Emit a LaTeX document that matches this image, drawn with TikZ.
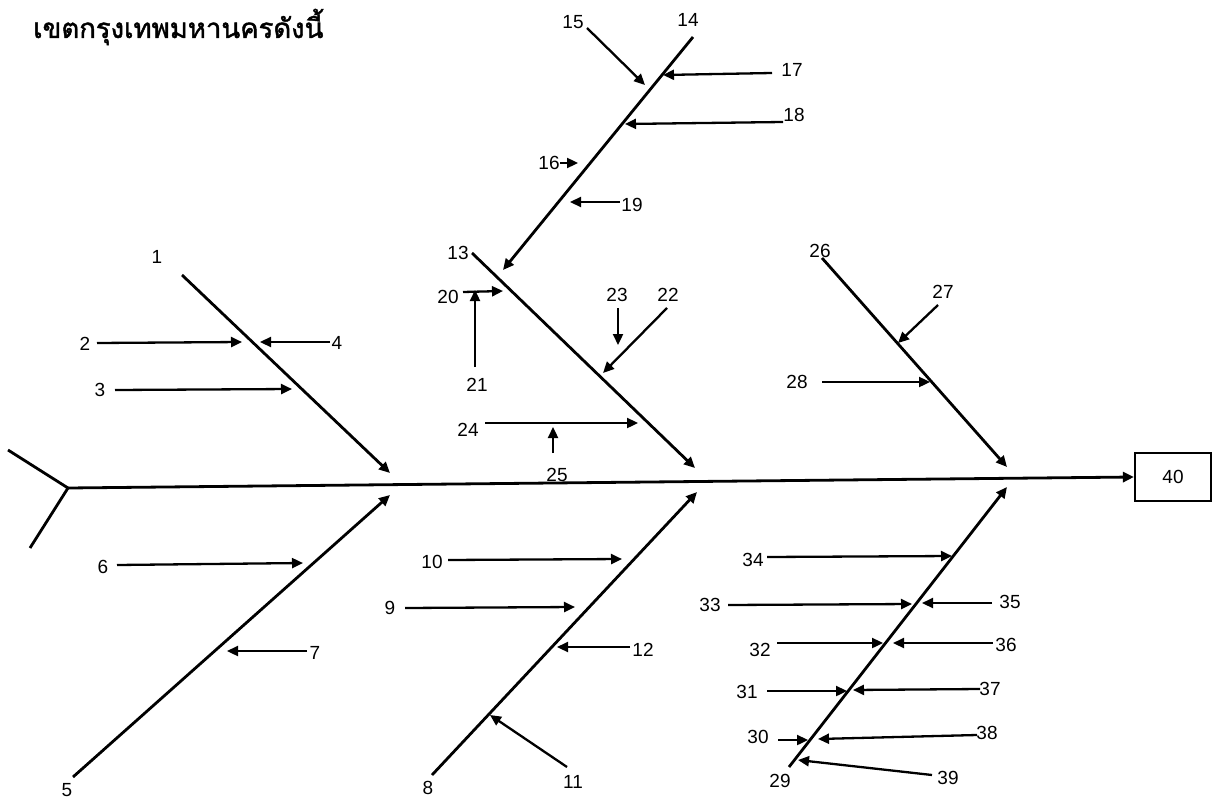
\documentclass[tikz,border=0pt]{standalone}
\usepackage{fontspec}
\setmainfont{Liberation Sans}
\newfontfamily\thaifont[Script=Thai,FakeBold=1.6]{Loma}
\usetikzlibrary{arrows.meta}
\begin{document}
\begin{tikzpicture}[x=1pt,y=-1pt,
  bone/.style={line width=2.8pt},
  arr/.style={line width=2.3pt,-{Triangle[length=11pt,width=10pt]}},
  lbl/.style={font=\fontsize{19}{22}\selectfont,inner sep=0pt},
  boxst/.style={draw,line width=2.2pt,minimum width=76pt,minimum height=48pt,font=\fontsize{19}{22}\selectfont}]
\useasboundingbox (0,0) rectangle (1214,802);
% title
\node[anchor=west,inner sep=0pt,font=\thaifont\fontsize{27.5}{32}\selectfont] (title) at (33,27) {เขตกรุงเทพมหานครดังนี้};
% head box and spine
\node[boxst] (box) at (1173,477) {40};
\coordinate (hd) at (68,488);
\coordinate (tu) at (8,450);
\coordinate (tl) at (30,548);
\draw[bone] (tu) -- (hd) -- (tl);
\draw[bone,-{Triangle[length=11pt,width=10pt]}] (hd) -- (box.west);
% main bones
\coordinate (b1s) at (182,275); \coordinate (b1t) at (390,473);
\coordinate (b5s) at (73,777);  \coordinate (b5t) at (390,495);
\coordinate (b13s) at (472,253); \coordinate (b13t) at (695,468);
\coordinate (b8s) at (432,775); \coordinate (b8t) at (697,492);
\coordinate (b14s) at (693,37); \coordinate (b14t) at (503,270);
\coordinate (b26s) at (822,258); \coordinate (b26t) at (1007,467);
\coordinate (b29s) at (789,767); \coordinate (b29t) at (1007,487);
\foreach \b in {1,5,13,8,14,26,29}{\draw[bone,-{Triangle[length=11pt,width=10pt]}] (b\b s) -- (b\b t);}
% bone labels
\node[lbl] (n1) at (157,257) {1};
\node[lbl] (n5) at (67,790) {5};
\node[lbl] (n13) at (458,253) {13};
\node[lbl] (n8) at (428,788) {8};
\node[lbl] (n14) at (688,20) {14};
\node[lbl] (n26) at (820,251) {26};
\node[lbl] (n29) at (780,781) {29};
% small arrows: name / label pos / start / tip
\foreach \n/\lx/\ly/\sx/\sy/\tx/\ty in {
 2/85/344/97/343/242/342,
 4/337/343/330/342/260/342,
 3/100/390/115/390/292/389,
 6/103/567/117/565/303/563,
 7/315/653/307/651/227/651,
 9/390/608/405/608/575/607,
 10/432/562/448/560/622/559,
 12/643/650/630/647/557/647,
 11/573/782/567/767/490/715,
 15/573/22/587/28/645/85,
 17/792/70/772/73/663/75,
 18/794/115/783/122/625/124,
 16/549/163/560/163/578/163,
 19/632/205/620/202/570/202,
 20/448/297/463/292/503/291,
 21/477/385/475/367/475/290,
 23/617/295/618/308/618/345,
 22/668/295/667/308/603/373,
 24/468/430/485/423/638/423,
 25/557/475/553/453/553/427,
 27/943/292/938/305/898/343,
 28/797/382/822/382/930/382,
 34/753/560/767/557/952/556,
 33/710/605/728/605/912/604,
 35/1010/602/992/603/922/603,
 32/760/650/777/643/883/643,
 36/1006/645/993/643/893/643,
 31/747/692/767/691/847/691,
 37/990/689/980/689/853/690,
 30/758/737/778/740/808/740,
 38/987/733/977/735/818/739,
 39/948/778/932/775/798/760}{
  \node[lbl] (n\n) at (\lx,\ly) {\n};
  \coordinate (s\n) at (\sx,\sy);
  \coordinate (t\n) at (\tx,\ty);
  \draw[arr] (s\n) -- (t\n);
}
\end{tikzpicture}
\end{document}
